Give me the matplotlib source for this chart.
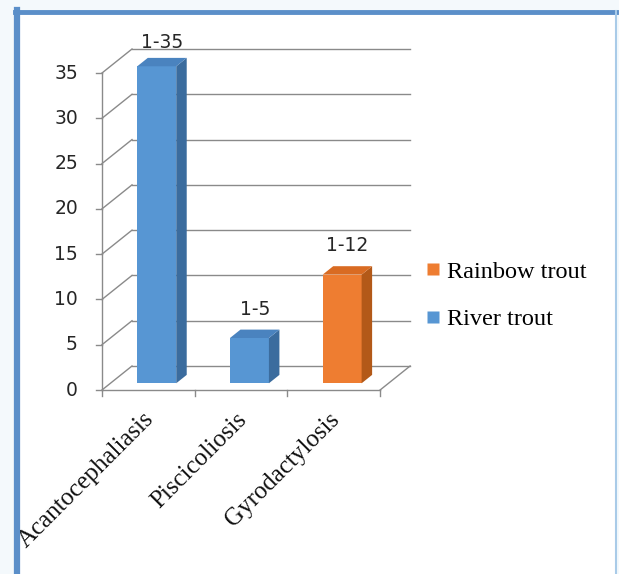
import numpy as np
import matplotlib
matplotlib.use("Agg")
import matplotlib.pyplot as plt
from matplotlib.patches import Polygon, Rectangle
from matplotlib.lines import Line2D

# infection ranges per disease
categories = ["Acantocephaliasis", "Piscicoliosis", "Gyrodactylosis"]
values = [35, 5, 12]
series = ["River trout", "River trout", "Rainbow trout"]
value_labels = ["1-35", "1-5", "1-12"]
y_ticks = [0, 5, 10, 15, 20, 25, 30, 35]

COLORS = {
    "River trout": ("#5796d3", "#3b6c9e", "#4a83bf"),  # front, side, top
    "Rainbow trout": ("#ee7d31", "#b35918", "#d96b22"),
}
LEGEND_ORDER = ["Rainbow trout", "River trout"]

W_PX, H_PX = 619, 574
# pixel layout of the front plane
X0_PX, CAT_PX = 102, 92.7
Y0_PX, UNIT_PX = 390, 9.057
# depth of the 3d box in data units
DX, DY = 30 / CAT_PX, 24 / UNIT_PX
BAR_W = 0.42
F0, F1 = 0.28, 0.63  # bar front / back depth fraction

GRID = "#8a8a8a"
SERIF = ["Liberation Serif", "DejaVu Serif"]

fig = plt.figure(figsize=(W_PX / 100, H_PX / 100), dpi=100)
fig.patch.set_facecolor("#f4f9fc")
ax = fig.add_axes([0, 0, 1, 1])
ax.set_xlim(-X0_PX / CAT_PX, (W_PX - X0_PX) / CAT_PX)
ax.set_ylim((Y0_PX - H_PX) / UNIT_PX, Y0_PX / UNIT_PX)
ax.axis("off")

# white chart area with the blue frame
ax.add_patch(Rectangle((16 / W_PX, 0), 600 / W_PX, 1 - 12 / H_PX,
                       transform=fig.transFigure, facecolor="white",
                       edgecolor="none", zorder=0))
fig.add_artist(Line2D([17 / W_PX, 17 / W_PX], [0, 1 - 10 / H_PX],
                      color="#5b8fc9", lw=4.5))
fig.add_artist(Line2D([15 / W_PX, 616 / W_PX], [1 - 11.5 / H_PX, 1 - 11.5 / H_PX],
                      color="#5b8fc9", lw=3.5))
fig.add_artist(Line2D([616 / W_PX, 616 / W_PX], [0, 1 - 11 / H_PX],
                      color="#a9cbe8", lw=1.5))

n = len(categories)
ymax = max(y_ticks)

# back wall gridlines and left wall
for t in y_ticks:
    ax.plot([0, DX], [t, t + DY], color=GRID, lw=1, zorder=1)
    ax.plot([DX, n + DX], [t + DY, t + DY], color=GRID, lw=1, zorder=1)
    ax.plot([-0.06, 0], [t, t], color=GRID, lw=1, zorder=1)
    ax.text(-0.26, t, str(t), ha="right", va="center", fontsize=13.5,
            color="#262626", family="DejaVu Sans")
ax.plot([0, 0], [0, ymax], color=GRID, lw=1, zorder=1)

# floor
ax.plot([0, n], [0, 0], color=GRID, lw=1, zorder=1)
ax.plot([n, n + DX], [0, DY], color=GRID, lw=1, zorder=1)
for k in range(n + 1):
    ax.plot([k, k], [0, -0.7], color=GRID, lw=1, zorder=1)

# bars
for i, (v, s, lab) in enumerate(zip(values, series, value_labels)):
    front, side, top = COLORS[s]
    x0 = i + 0.5 - BAR_W / 2 + F0 * DX
    x1 = x0 + BAR_W
    y0 = F0 * DY
    ddx, ddy = (F1 - F0) * DX, (F1 - F0) * DY
    ax.add_patch(Polygon([(x0, y0), (x1, y0), (x1, y0 + v), (x0, y0 + v)],
                         closed=True, facecolor=front, edgecolor="none", zorder=3))
    ax.add_patch(Polygon([(x1, y0), (x1 + ddx, y0 + ddy), (x1 + ddx, y0 + ddy + v),
                          (x1, y0 + v)],
                         closed=True, facecolor=side, edgecolor="none", zorder=3))
    ax.add_patch(Polygon([(x0, y0 + v), (x1, y0 + v), (x1 + ddx, y0 + ddy + v),
                          (x0 + ddx, y0 + ddy + v)],
                         closed=True, facecolor=top, edgecolor="none", zorder=3))
    # keep the tallest label inside the chart area
    ly = min(v + y0 + 3.2, ymax + 3.4)
    ax.text(i + 0.5 + (F0 + F1) / 2 * DX, ly, lab, ha="center", va="center",
            fontsize=13.5, color="#262626", family="DejaVu Sans", zorder=4)

# category labels
for i, c in enumerate(categories):
    ax.text(i + 0.44, -2.0, c, rotation=45, ha="right", va="top",
            rotation_mode="anchor", fontsize=18, family=SERIF, color="#111111")

handles = [Line2D([], [], ls="", marker="s", markersize=8.5,
                  markerfacecolor=COLORS[s][0], markeredgecolor="none")
           for s in LEGEND_ORDER]
fig.legend(handles, LEGEND_ORDER, loc="center left",
           bbox_to_anchor=(424 / W_PX, 1 - 295.5 / H_PX), frameon=False,
           borderpad=0, borderaxespad=0, handlelength=0.7, handletextpad=0.25,
           labelspacing=1.05, prop={"family": SERIF, "size": 17.5})

fig.savefig("out.png", dpi=100, facecolor=fig.get_facecolor())
